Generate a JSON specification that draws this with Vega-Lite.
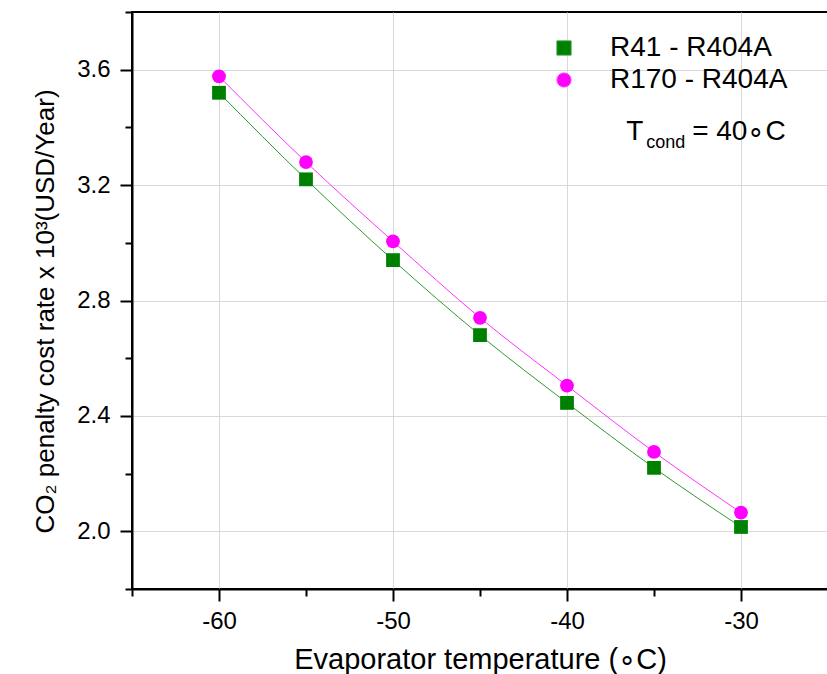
{
  "$schema": "https://vega.github.io/schema/vega-lite/v6.json",
  "autosize": "none",
  "padding": {"left": 132, "top": 12, "right": 0, "bottom": 85},
  "width": 696,
  "height": 577,
  "background": "white",
  "config": {
    "font": "Liberation Sans",
    "view": {"stroke": "black", "strokeWidth": 2},
    "axis": {
      "domainColor": "black",
      "domainWidth": 2,
      "tickColor": "black",
      "tickWidth": 2,
      "labelColor": "black",
      "titleColor": "black",
      "labelFont": "Liberation Sans",
      "titleFont": "Liberation Sans",
      "titleFontWeight": "normal",
      "gridColor": "#d8d8d8",
      "gridWidth": 1
    }
  },
  "datasets": {
    "main": [
      {"t": -60, "v": 3.52, "series": "R41 - R404A"},
      {"t": -55, "v": 3.22, "series": "R41 - R404A"},
      {"t": -50, "v": 2.94, "series": "R41 - R404A"},
      {"t": -45, "v": 2.68, "series": "R41 - R404A"},
      {"t": -40, "v": 2.445, "series": "R41 - R404A"},
      {"t": -35, "v": 2.22, "series": "R41 - R404A"},
      {"t": -30, "v": 2.015, "series": "R41 - R404A"},
      {"t": -60, "v": 3.577, "series": "R170 - R404A"},
      {"t": -55, "v": 3.28, "series": "R170 - R404A"},
      {"t": -50, "v": 3.005, "series": "R170 - R404A"},
      {"t": -45, "v": 2.74, "series": "R170 - R404A"},
      {"t": -40, "v": 2.505, "series": "R170 - R404A"},
      {"t": -35, "v": 2.275, "series": "R170 - R404A"},
      {"t": -30, "v": 2.065, "series": "R170 - R404A"}
    ],
    "note": [
      {"t": -36.6, "v": 3.357}
    ]
  },
  "layer": [
    {
      "data": {"name": "main"},
      "mark": {"type": "line", "strokeWidth": 1, "interpolate": "monotone"},
      "encoding": {
        "x": {
          "field": "t", "type": "quantitative",
          "scale": {"domain": [-65, -25], "nice": false, "zero": false},
          "axis": {
            "title": "Evaporator temperature (∘C)",
            "titleFontSize": 29,
            "titlePadding": 12,
            "labelFontSize": 24,
            "labelPadding": 8,
            "values": [-65, -60, -55, -50, -45, -40, -35, -30],
            "labelExpr": "datum.value % 10 === 0 ? toString(datum.value) : ''",
            "tickSize": {"condition": {"test": "datum.value % 10 === 0", "value": 12}, "value": 7},
            "gridOpacity": {"condition": {"test": "datum.value % 10 === 0", "value": 1}, "value": 0}
          }
        },
        "y": {
          "field": "v", "type": "quantitative",
          "scale": {"domain": [1.8, 3.8], "nice": false, "zero": false},
          "axis": {
            "title": "CO₂ penalty cost rate x 10³(USD/Year)",
            "titleFontSize": 26,
            "titlePadding": 18,
            "titleY": 299,
            "labelFontSize": 24,
            "labelPadding": 10,
            "format": ".1f",
            "values": [1.8, 2.0, 2.2, 2.4, 2.6, 2.8, 3.0, 3.2, 3.4, 3.6, 3.8],
            "labelExpr": "round(datum.value * 10) % 4 === 0 ? datum.label : ''",
            "tickSize": {"condition": {"test": "round(datum.value * 10) % 4 === 0", "value": 12}, "value": 7},
            "gridOpacity": {"condition": {"test": "round(datum.value * 10) % 4 === 0", "value": 1}, "value": 0}
          }
        },
        "stroke": {
          "field": "series", "type": "nominal",
          "scale": {"domain": ["R41 - R404A", "R170 - R404A"], "range": ["#2e9a2e", "#ff33ff"]}
        }
      }
    },
    {
      "data": {"name": "main"},
      "mark": {"type": "point", "filled": true, "opacity": 1},
      "encoding": {
        "x": {"field": "t", "type": "quantitative"},
        "y": {"field": "v", "type": "quantitative"},
        "fill": {
          "field": "series", "type": "nominal",
          "scale": {"domain": ["R41 - R404A", "R170 - R404A"], "range": ["#008000", "#ff00ff"]},
          "legend": {
            "title": null,
            "orient": "none",
            "legendX": 418,
            "legendY": 22,
            "labelFontSize": 28,
            "labelColor": "black",
            "labelLimit": 0,
            "labelOffset": 32,
            "rowPadding": 4,
            "symbolSize": 200,
            "symbolStrokeWidth": 1
          }
        },
        "shape": {
          "field": "series", "type": "nominal",
          "scale": {"domain": ["R41 - R404A", "R170 - R404A"], "range": ["square", "circle"]}
        },
        "size": {"value": 190}
      }
    },
    {
      "data": {"name": "note"},
      "mark": {"type": "text", "text": "T", "align": "left", "baseline": "alphabetic", "fontSize": 28, "font": "Liberation Sans", "color": "black"},
      "encoding": {
        "x": {"field": "t", "type": "quantitative"},
        "y": {"field": "v", "type": "quantitative"}
      }
    },
    {
      "data": {"name": "note"},
      "mark": {"type": "text", "text": "cond", "align": "left", "baseline": "alphabetic", "fontSize": 18, "font": "Liberation Sans", "color": "black", "dx": 20, "dy": 8},
      "encoding": {
        "x": {"field": "t", "type": "quantitative"},
        "y": {"field": "v", "type": "quantitative"}
      }
    },
    {
      "data": {"name": "note"},
      "mark": {"type": "text", "text": "= 40∘C", "align": "left", "baseline": "alphabetic", "fontSize": 28, "font": "Liberation Sans", "color": "black", "dx": 66},
      "encoding": {
        "x": {"field": "t", "type": "quantitative"},
        "y": {"field": "v", "type": "quantitative"}
      }
    }
  ]
}
